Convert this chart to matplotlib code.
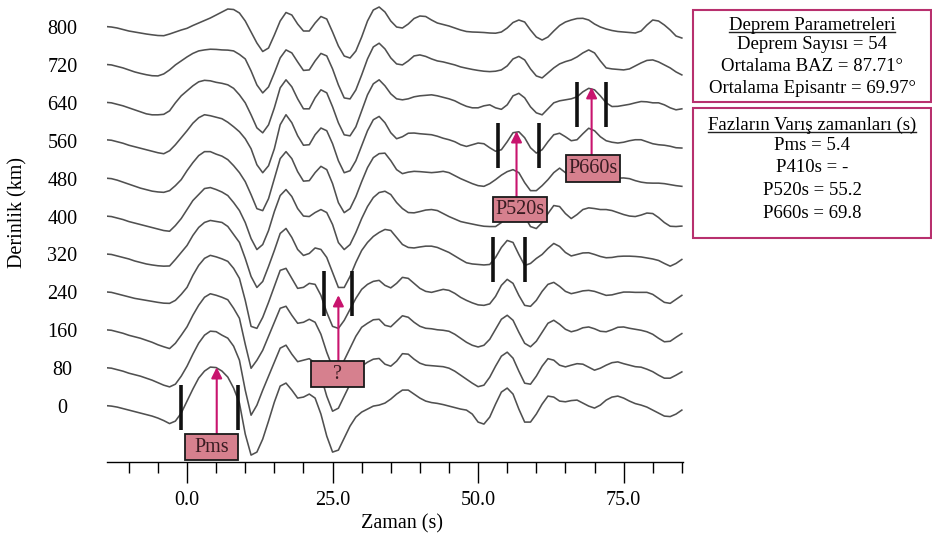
import matplotlib
matplotlib.use("Agg")
import matplotlib.pyplot as plt
import numpy as np
from matplotlib.patches import Rectangle
from matplotlib.lines import Line2D

plt.rcParams["font.family"] = ["Liberation Serif", "DejaVu Serif"]

# time axis of the stacked receiver functions (s), one sample per second
TIME = list(range(-14, 86))
DEPTHS = [0, 80, 160, 240, 320, 400, 480, 560, 640, 720, 800]

# amplitudes (arbitrary units, one list per depth)
AMP_0 = [0.5, 0, -1, -2.5, -4, -5.5, -7, -8.5, -10, -12,
         -14.5, -17.5, -15, -7, 5, 17, 28, 35, 39, 38.5,
         35, 29, 18, 3, -28, -49, -46, -33, -15, 4,
         20, 23, 16, 8, 9, 12, 8, -8, -30, -46,
         -44, -32, -20, -11, -6, -3, 0, 1, 3, 7,
         12, 16, 16, 12, 8, 5, 3.5, 2.7, 1.5, 0,
         -1.5, -3, -4, -8, -16, -18, -11, 2, 14, 18,
         12, -3, -16, -16, -8, 2, 10, 9, 5, 4.3,
         5.5, 6, 3, 0, -2, 1, 6, 9, 10, 8,
         5, 2.5, 1, -1, -4, -7, -10, -10.5, -8, -4]
AMP_80 = [0.5, 0, -1.5, -3, -5, -6.5, -8, -10, -12, -14.5,
          -17, -18.7, -16, -8, 2, 14, 25, 33, 37, 36.5,
          33, 30, 22, 8, -22, -47, -37, -22, -8, 6,
          20, 23, 14, 6.5, 8, 9.5, 5, -8, -28, -43,
          -40, -28, -16, -6, 2, 6, 9, 9.7, 4, 2,
          7, 14.5, 14, 9, 5, 3, 2.5, 2, 1.5, 0,
          -3, -7, -11, -15, -18.5, -17, -9, 2, 12, 16,
          10, -3, -15, -16, -8, 2, 9.5, 8, 3, 1.3,
          3, 4.5, 4, 1, -2, 0, 3, 5.5, 6.3, 4.5,
          3, 1.5, 1, -1, -3.5, -7, -10, -10, -7, -3.7]
AMP_160 = [0.5, 0, -1.5, -3, -5, -6.5, -8, -10, -12, -14.5,
           -16.5, -18.3, -13, -5, 3.5, 15, 25, 33, 36.5, 35,
           33, 30.5, 22, 12, -14, -38, -30, -20, -6, 8,
           22, 24, 15, 7, 8, 11, 8, -4, -22, -37,
           -39, -30, -18, -6, 3, 7, 10.5, 11, 5, 3.5,
           9, 14.5, 13, 8, 4, 2, 1.5, 0.5, 0, -1,
           -4, -8, -12, -15, -16.7, -15, -9, 1, 11, 15,
           10, -2, -13, -16.5, -11, -2, 7, 10, 6, 1,
           -1.5, 0, 2.5, 3.3, 1.5, -1, -1.5, 0.5, 3, 3.3,
           2, 1, 0, -1.5, -4, -8, -11.5, -11, -7, -3.3]
AMP_240 = [0.5, 0, -1.5, -3, -4.5, -6, -7, -8, -9, -10,
           -10.8, -11, -8, -2, 5, 17, 27, 34, 37, 35.5,
           33.5, 31, 24, 14, -8, -34, -36, -25, -10, 6,
           22, 24, 14, 4, 5, 9, 8, -3, -20, -34,
           -36, -28, -17, -6, 3, 8, 11, 12, 7, 4.5,
           9, 15, 14, 9, 4, 1, 0, 1.5, 3, 2,
           -1, -5, -8, -10.5, -12.5, -13, -11.5, -4, 7, 13,
           9, -3, -13, -14, -8, 1, 8, 10, 6, 1,
           -1.3, 0, 1.5, 2, 1, -1, -3, -2.5, -1, 0.3,
           0.3, 0, 0, 0, -2, -6, -10, -11, -7, -3]
AMP_320 = [0.5, 0, -1.5, -3, -4.5, -6.5, -8, -9.5, -10.5, -11.3,
           -11.7, -11.5, -5, 2, 9, 19, 27, 32, 34, 33,
           32, 28, 20, 12, -4, -22, -33, -27, -12, 4,
           21, 26, 17, 5, -1, 1, 6.5, 5, -3, -18,
           -33, -33, -22, -8, 4, 12, 18, 22, 25, 24,
           17, 10, 7, 6.5, 7.5, 8.3, 8.3, 7, 4.5, 2,
           -1.5, -5, -8.3, -9.5, -10, -10.5, -10, -3, 7, 14,
           12, 0, -11, -9, -4, 0, 6, 11, 8, 2,
           -1.5, 0, 1.5, 1.7, 0, -2, -3.3, -3, -2, -1.7,
           -1.7, -2, -2.5, -3.5, -4.5, -6, -9, -11.7, -9, -5]
AMP_400 = [0.5, 0, -1.5, -3, -5, -6.5, -8, -9.5, -11, -12.5,
           -14, -14.7, -9, -2, 7, 16, 22, 28, 29, 27,
           24.5, 21, 14, 6, -6, -22, -33, -28, -14, 5,
           21, 27, 20, 8, 0.5, 0, 4, 7, 4, -8,
           -26, -33, -28, -16, -2, 10, 19, 24, 25.3, 22,
           14, 8, 4, 3.7, 5, 6.5, 7, 6, 3, 0,
           -2.5, -5, -6.3, -7.5, -8.7, -9.7, -10, -10, -6, 3,
           10, 9, 0, -10, -12, -6, 3, 11, 10, 3,
           -2, 2, 7, 8.7, 8, 7, 7, 6, 4, 2,
           0.5, 0, 1.5, 3.5, 3, -1, -6, -9.7, -10, -9.5]
AMP_480 = [0.5, 0, -1.5, -3.5, -5.5, -7.5, -9.5, -11, -12.5, -13.3,
           -13.7, -12, -7, -1, 8, 16, 23, 27, 27, 24.5,
           22.5, 19, 13, 6, -3, -16, -30, -32, -20, 0,
           20, 27, 20, 7, -2.5, -2, 6, 12.3, 9, -5,
           -24, -34, -30, -18, -3, 11, 21, 25, 25.5, 18,
           9, 5, 6.5, 7.3, 7, 6.5, 6, 6.5, 7.3, 6,
           3, 0, -2.5, -5, -7, -7.7, -5, -1, 3.5, 7,
           9, 6, -4, -12, -12, -7, -1, 6, 10.5, 6,
           1, 2, 5, 6, 4, 2, 1, 0.5, 0.5, 0.7,
           0, -2, -3.5, -4.3, -4.5, -4.5, -5, -6, -7, -7.7]
AMP_560 = [1, 0.5, -1, -2.5, -4.5, -6, -7.5, -9, -10.5, -12,
           -13, -10, -4, 3, 10, 17.5, 23, 26, 25, 23.5,
           22, 18.5, 14, 9, 2, -8, -24, -32, -25, -8,
           16, 26, 18, 5, -4.5, -4, 6, 12.7, 10, -3,
           -20, -32, -30, -20, -5, 10, 21, 24.3, 18, 8,
           2, 4, 7.5, 7.7, 7, 6.5, 6, 4.5, 2.5, 1,
           -1, -4, -5.7, -4, -2.3, -3, -7, -10.5, -9, -1,
           8, 9, 3, -7, -12.3, -9, -1, 6, 7.5, 4,
           0, 1, 7, 12.5, 10, 4, 0, -1.5, -2.3, -1.5,
           0, 1, 1, -1, -3, -4, -4.5, -5.5, -7, -7.3]
AMP_640 = [0.5, 0, -1.5, -3, -5, -7, -9, -11, -12, -12,
           -11.5, -8, 0, 7, 12, 17, 21, 22.5, 22, 20.5,
           19.5, 18, 14.5, 8, 0, -12, -25, -30, -22, -5,
           15, 23, 16, 4, -6, -6, 5, 13, 10, -4,
           -20, -32, -33, -24, -8, 8, 19, 23, 17, 9,
           4, 3, 4, 6, 7, 7.5, 8, 7, 5.5, 4,
           2, -1, -3.5, -5, -5, -3, -2, -5, -6.5, -2,
           7, 9.5, 5, -4, -10, -12, -6, 0, 2, 3,
           4, 6, 11, 14.5, 13, 7, 0, -3.7, -3.5, -2.5,
           -1.5, 0, 1.3, 1, 0, 0, -2, -5, -7, -6]
AMP_720 = [0.5, 0, -1.5, -3, -5, -7, -8.5, -9.8, -10.8, -11,
           -9, -5, 0, 4, 8, 11.5, 14, 15, 15.7, 15.5,
           15, 14.8, 14, 10.5, 6, -6, -20, -28, -22, -8,
           7, 15, 12, 3, -5.5, -5, 4, 11.5, 9, -4,
           -20, -33, -34, -25, -10, 6, 18, 21.7, 16, 7,
           1, 0, 4, 9, 10, 8.5, 6, 4, 3, 1.5,
           0, -2, -3.3, -4.5, -5.5, -6.3, -6.7, -6.3, -5, -1,
           6, 8.5, 5, -4, -11, -13, -8, -3, 1, 3.3,
           5, 8, 12, 15, 12, 4, -3, -4, -4.5, -5,
           -4, -1, 2, 4.5, 5, 3, 0, -3, -7, -10]
AMP_800 = [0.5, 0, -1, -2.5, -4, -5, -6, -7, -7.8, -8.5,
           -8.7, -7, -5, -3, -1.3, 1.5, 4, 6.5, 9, 12,
           15, 18, 17.5, 14, 6, -5, -16, -24.5, -21, -8,
           6, 14.5, 12, 3, -4, -4, 4, 10.5, 8, -5,
           -19, -29, -31, -24, -10, 6, 17, 20, 15, 6,
           0, -1, 3, 8.5, 11, 10.5, 7, 4, 2.5, 1,
           -1, -3, -4.5, -5, -5.2, -5.5, -6, -6.2, -5, -1,
           4.5, 7, 5, -3, -10, -13, -10, -4, 1.5, 5,
           7, 8.5, 8.7, 7, 3, 0, -2, -3.5, -4.5, -5,
           -5.5, -6, -4, 2, 7, 6, 2, -3, -9, -11]
AMPS = [AMP_0, AMP_80, AMP_160, AMP_240, AMP_320, AMP_400,
        AMP_480, AMP_560, AMP_640, AMP_720, AMP_800]

# picked phases: label, arrow time, arrow tip (km), box centre time, box centre (km)
PHASE_NAMES = ["Pms", "?", "P520s", "P660s"]
PHASE_TIMES = [5.1, 26.0, 56.6, 69.5]
PHASE_TIPS = [82, 234, 580, 673]
BOX_T = [4.2, 25.85, 57.15, 69.7]
BOX_Y = [-86.5, 67.5, 415.6, 501.7]
BOX_W = [9.0, 9.1, 9.3, 9.2]
BOX_H = [55, 55, 53, 56]
# bracket windows: (t_left, t_right, km_low, km_high)
WINDOWS = [(-1.1, 8.7, -50.7, 44.3),
           (23.6, 28.3, 190.6, 285.6),
           (53.5, 60.5, 501.8, 597.5),
           (52.5, 58.0, 262.4, 356.3),
           (67.0, 72.0, 589.6, 684.6)]

PARAM_TITLE = "Deprem Parametreleri"
PARAM_LINES = ["Deprem Sayısı = 54", "Ortalama BAZ = 87.71°",
               "Ortalama Episantr = 69.97°"]
ARRIVAL_TITLE = "Fazların Varış zamanları (s)"
ARRIVAL_LINES = ["Pms = 5.4", "P410s = -", "P520s = 55.2", "P660s = 69.8"]

GAIN = 80 / 37.9
TRACE_COLOR = "#505050"
ARROW_COLOR = "#c8146e"
BOX_FILL = "#d6808e"
FRAME_COLOR = "#b8306e"
FS = 14.5

W, H = 932, 541
fig = plt.figure(figsize=(W / 100, H / 100), dpi=100)
ax = fig.add_axes([107 / W, 1 - 462 / H, 576 / W, 462 / H])

t = np.array(TIME)
for depth, amp in zip(DEPTHS, AMPS):
    ax.plot(t, depth + GAIN * np.array(amp), color=TRACE_COLOR, lw=1.15,
            solid_joinstyle="round", zorder=2)

for tl, tr, y0, y1 in WINDOWS:
    ax.plot([tl, tl], [y0, y1], color="#111111", lw=2.6, zorder=4, solid_capstyle="butt")
    ax.plot([tr, tr], [y0, y1], color="#111111", lw=2.6, zorder=4, solid_capstyle="butt")

for name, pt, tip, bt, by, bw, bh in zip(PHASE_NAMES, PHASE_TIMES, PHASE_TIPS,
                                         BOX_T, BOX_Y, BOX_W, BOX_H):
    ax.add_patch(Rectangle((bt - bw / 2, by - bh / 2), bw, bh, facecolor=BOX_FILL,
                           edgecolor="#1a1a1a", lw=1.3, zorder=6))
    ax.text(bt, by, name, ha="center", va="center", fontsize=FS, color="#3a1c22", zorder=7)
    ax.annotate("", xy=(pt, tip), xytext=(pt, by + bh / 2),
                arrowprops=dict(arrowstyle="-|>", color=ARROW_COLOR, lw=1.5,
                                mutation_scale=16, shrinkA=0, shrinkB=0), zorder=5)

ax.set_xlim(-13.75, 85.2)
ax.set_ylim(-118, 857)
for s in ("left", "right", "top"):
    ax.spines[s].set_visible(False)
ax.spines["bottom"].set_linewidth(1.0)

ax.set_xticks([0, 25, 50, 75])
ax.set_xticklabels(["0.0", "25.0", "50.0", "75.0"], fontsize=FS)
ax.set_xticks([m for m in range(-10, 86, 5) if m % 25 != 0], minor=True)
ax.tick_params(axis="x", which="major", length=15, width=1, pad=6, direction="out")
ax.tick_params(axis="x", which="minor", length=8, width=1, direction="out")

ax.set_yticks(DEPTHS)
ax.set_yticklabels([str(d) for d in DEPTHS], fontsize=FS)
ax.tick_params(axis="y", length=0, pad=32)
for lab in ax.get_yticklabels():
    lab.set_horizontalalignment("center")

fig.text(402 / W, 1 - 524 / H, "Zaman (s)", ha="center", va="center", fontsize=FS)
fig.text(18 / W, 1 - 212 / H, "Derinlik (km)", ha="center", va="center",
         rotation=90, fontsize=FS)

# info boxes on the right
BX0, BX1 = 693, 931
for y_top, y_bot in [(10, 101.7), (108, 238)]:
    fig.add_artist(Rectangle((BX0 / W, 1 - y_bot / H), (BX1 - BX0) / W, (y_bot - y_top) / H,
                             transform=fig.transFigure, facecolor="white",
                             edgecolor=FRAME_COLOR, lw=1.5))

cx = (BX0 + BX1) / 2 / W
titles = []
titles.append(fig.text(cx, 1 - 29.5 / H, PARAM_TITLE, ha="center", va="baseline", fontsize=13.5))
for i, line in enumerate(PARAM_LINES):
    fig.text(cx, 1 - (45 + 21.5 * i) / H, line, ha="center", va="center", fontsize=13.5)
titles.append(fig.text(cx, 1 - 129.5 / H, ARRIVAL_TITLE, ha="center", va="baseline", fontsize=13.5))
for i, line in enumerate(ARRIVAL_LINES):
    fig.text(cx, 1 - (145.5 + 22.5 * i) / H, line, ha="center", va="center", fontsize=13.5)

fig.canvas.draw()
r = fig.canvas.get_renderer()
for txt in titles:
    bb = txt.get_window_extent(r)
    _, yb = fig.transFigure.transform(txt.get_position())
    yl = (yb - 2.5) / H
    fig.add_artist(Line2D([bb.x0 / W, bb.x1 / W], [yl, yl], transform=fig.transFigure,
                          color="#222222", lw=1.0))

fig.savefig("out.png", dpi=100)
